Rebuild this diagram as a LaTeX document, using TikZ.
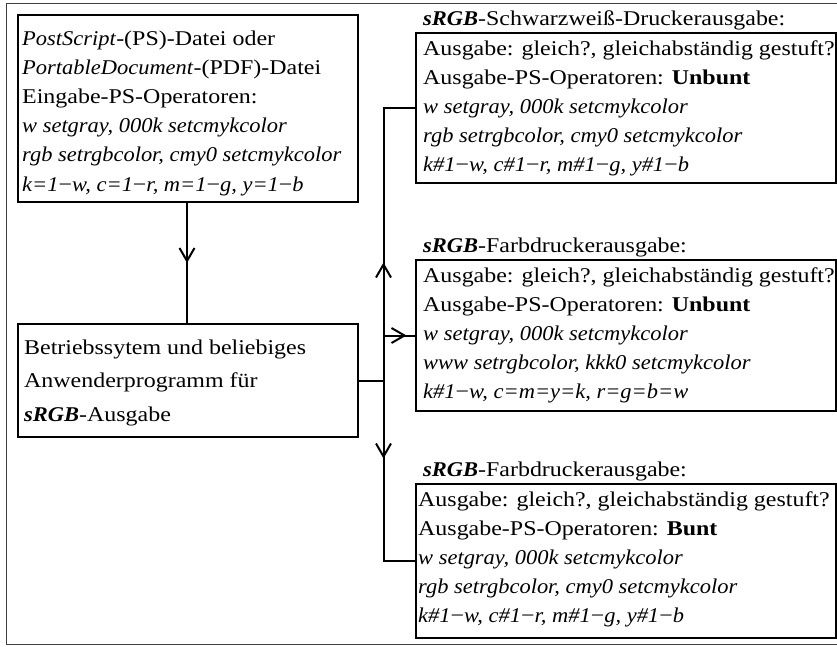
\documentclass[tikz,border=0pt]{standalone}
\usepackage{fontspec}
\setmainfont{Liberation Serif}[FakeStretch=1.14, ItalicFeatures={FakeStretch=1.07}, BoldItalicFeatures={FakeStretch=1.07}]
\usetikzlibrary{arrows.meta,decorations.markings,calc}
\newcommand\mym{\textup{−}}
\begin{document}
\begin{tikzpicture}[x=1pt,y=-1pt,
  box/.style={draw, line width=2pt, rectangle, inner sep=0pt, anchor=north west},
  txt/.style={inner sep=0pt, anchor=base west, font=\fontsize{21}{29.2}\selectfont},
  conn/.style={line width=2pt},
  midarr/.style={postaction={decorate}, decoration={markings,
     mark=at position #1 with {\arrow{Straight Barb[length=13pt,width=15pt,line width=2pt]}}}}
]
\useasboundingbox (0,0) rectangle (837,646);
\draw[line width=1pt, black!75] (845,3) -- (6,3) -- (6,644) -- (845,644);

% boxes
\node[box, minimum width=340, minimum height=187] (b1) at (17,14) {};
\node[box, minimum width=340, minimum height=113] (b2) at (17,323) {};
\node[box, minimum width=420, minimum height=150] (r1) at (415,32) {};
\node[box, minimum width=420, minimum height=151] (r2) at (415,259) {};
\node[box, minimum width=420, minimum height=154] (r3) at (415,483) {};

% texts
\node[txt] (b1t) at (22,45) {\begin{tabular}[t]{@{}l@{}}
\textit{PostScript}-(PS)-Datei oder\\
\textit{PortableDocument}-(PDF)-Datei\\
Eingabe-PS-Operatoren:\\
\textit{w setgray, 000k setcmykcolor}\\
\textit{rgb setrgbcolor, cmy0 setcmykcolor}\\
\textit{k=1\mym w, c=1\mym r, m=1\mym g, y=1\mym b}
\end{tabular}};

\node[txt, font=\fontsize{21}{33.5}\selectfont] (b2t) at (24,354) {\begin{tabular}[t]{@{}l@{}}
Betriebssytem und beliebiges\\
Anwenderprogramm für\\
\textbf{\textit{sRGB}}-Ausgabe
\end{tabular}};

\node[txt] (r1h) at (423,25) {\textbf{\textit{sRGB}}-Schwarzweiß-Druckerausgabe:};
\node[txt] (r1t) at (423,55) {\begin{tabular}[t]{@{}l@{}}
Ausgabe: gleich?, gleichabständig gestuft?\\
Ausgabe-PS-Operatoren: \textbf{Unbunt}\\
\textit{w setgray, 000k setcmykcolor}\\
\textit{rgb setrgbcolor, cmy0 setcmykcolor}\\
\textit{k\#1\mym w, c\#1\mym r, m\#1\mym g, y\#1\mym b}
\end{tabular}};

\node[txt] (r2h) at (423,252) {\textbf{\textit{sRGB}}-Farbdruckerausgabe:};
\node[txt] (r2t) at (423,282) {\begin{tabular}[t]{@{}l@{}}
Ausgabe: gleich?, gleichabständig gestuft?\\
Ausgabe-PS-Operatoren: \textbf{Unbunt}\\
\textit{w setgray, 000k setcmykcolor}\\
\textit{www setrgbcolor, kkk0 setcmykcolor}\\
\textit{k\#1\mym w, c=m=y=k, r=g=b=w}
\end{tabular}};

\node[txt] (r3h) at (423,476) {\textbf{\textit{sRGB}}-Farbdruckerausgabe:};
\node[txt] (r3t) at (418,506) {\begin{tabular}[t]{@{}l@{}}
Ausgabe: gleich?, gleichabständig gestuft?\\
Ausgabe-PS-Operatoren: \textbf{Bunt}\\
\textit{w setgray, 000k setcmykcolor}\\
\textit{rgb setrgbcolor, cmy0 setcmykcolor}\\
\textit{k\#1\mym w, c\#1\mym r, m\#1\mym g, y\#1\mym b}
\end{tabular}};

% connectors
\coordinate (j) at (383.5,0 |- b2.east);
\draw[conn, midarr=0.5] (b1.south -| 187,0) -- (b2.north -| 187,0);
\draw[conn] (b2.east) -- (j);
\draw[conn, midarr=118pt] (j) |- (r1.west);
\draw[conn, midarr=78pt] (j) |- (r3.west);
\draw[conn, midarr=23pt] (j |- r2.west) -- (r2.west);
\end{tikzpicture}
\end{document}
